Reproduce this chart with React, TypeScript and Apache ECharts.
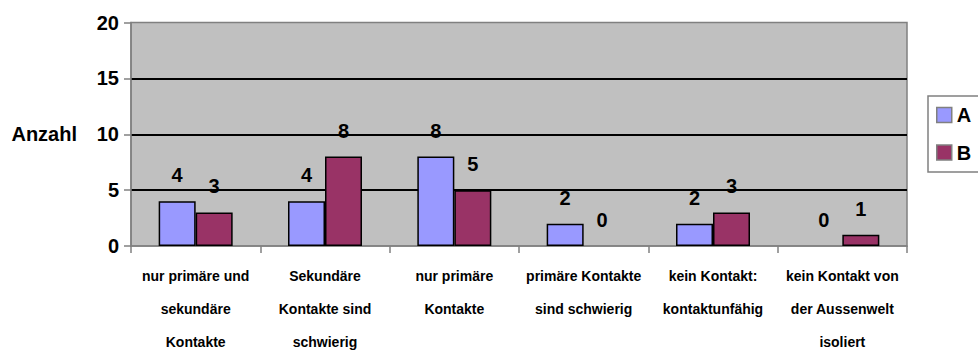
import React, { useEffect, useRef } from "react";
import * as echarts from "echarts";

// Kontaktformen (mit Zeilenumbrüchen) und Anzahl je Gruppe
const categories = [
  "nur primäre und\nsekundäre\nKontakte",
  "Sekundäre\nKontakte sind\nschwierig",
  "nur primäre\nKontakte",
  "primäre Kontakte\nsind schwierig",
  "kein Kontakt:\nkontaktunfähig",
  "kein Kontakt von\nder Aussenwelt\nisoliert",
];
const seriesNames = ["A", "B"];
const valuesA = [4, 4, 8, 2, 2, 0];
const valuesB = [3, 8, 5, 0, 3, 1];
const yTicks = { min: 0, max: 20, interval: 5 };
const yAxisTitle = "Anzahl";

const FONT = "'Liberation Sans', Arial, Helvetica, sans-serif";
const COLORS = ["#9999FF", "#993366"];

export default function App() {
  const ref = useRef<HTMLDivElement>(null);

  useEffect(() => {
    if (!ref.current) return;
    const chart = echarts.init(ref.current, undefined, { renderer: "svg" });

    // zero-height bars get no outline, only their value label
    const toData = (values: number[]) =>
      values.map((v) => (v === 0 ? { value: v, itemStyle: { borderWidth: 0 } } : v));

    const barSeries = (name: string, values: number[], color: string) => ({
      name,
      type: "bar",
      data: toData(values),
      barWidth: 37,
      barGap: "0%",
      itemStyle: { color, borderColor: "#000", borderWidth: 1.5 },
      label: {
        show: true,
        position: "top",
        distance: 16,
        color: "#000",
        fontFamily: FONT,
        fontWeight: "bold",
        fontSize: 20,
      },
    });

    chart.setOption({
      animation: false,
      textStyle: { fontFamily: FONT },
      color: COLORS,
      grid: {
        left: 131,
        top: 22.5,
        width: 776,
        height: 223.5,
        show: true,
        backgroundColor: "#C0C0C0",
        borderColor: "#808080",
        borderWidth: 1.5,
        containLabel: false,
        outerBoundsMode: "none",
      },
      legend: {
        orient: "vertical",
        left: 928,
        top: 96,
        padding: [9, 30, 9.5, 8],
        itemWidth: 15,
        itemHeight: 15,
        itemGap: 17.5,
        icon: "rect",
        borderColor: "#808080",
        borderWidth: 1.5,
        backgroundColor: "#fff",
        itemStyle: { borderColor: "#808080", borderWidth: 1.5 },
        textStyle: {
          color: "#000",
          fontFamily: FONT,
          fontWeight: "bold",
          fontSize: 20,
          lineHeight: 20,
        },
        data: seriesNames,
      },
      xAxis: {
        type: "category",
        data: categories,
        axisLine: { lineStyle: { color: "#808080", width: 1.5 } },
        axisTick: { show: true, length: 7, lineStyle: { color: "#808080", width: 1.5 } },
        axisLabel: {
          interval: 0,
          margin: 13,
          verticalAlign: "top",
          lineHeight: 33,
          color: "#000",
          fontFamily: FONT,
          fontWeight: "bold",
          fontSize: 14,
        },
      },
      yAxis: {
        type: "value",
        min: yTicks.min,
        max: yTicks.max,
        interval: yTicks.interval,
        name: yAxisTitle,
        nameLocation: "middle",
        nameRotate: 0,
        nameGap: 54,
        nameTextStyle: {
          color: "#000",
          fontFamily: FONT,
          fontWeight: "bold",
          fontSize: 20,
          align: "right",
          verticalAlign: "middle",
        },
        axisLine: { show: true, lineStyle: { color: "#808080", width: 1.5 } },
        axisTick: { show: true, length: 7, lineStyle: { color: "#808080", width: 1.5 } },
        axisLabel: {
          margin: 12,
          color: "#000",
          fontFamily: FONT,
          fontWeight: "bold",
          fontSize: 20,
        },
        splitLine: {
          show: true,
          showMinLine: false,
          showMaxLine: false,
          lineStyle: { color: "#000", width: 1.8 },
        },
      },
      series: [
        barSeries(seriesNames[0], valuesA, COLORS[0]),
        barSeries(seriesNames[1], valuesB, COLORS[1]),
      ],
    });

    return () => chart.dispose();
  }, []);

  return (
    <div
      style={{
        position: "fixed",
        left: 0,
        top: 0,
        width: 978,
        height: 352,
        overflow: "hidden",
        background: "#fff",
      }}
    >
      <div ref={ref} style={{ width: 1000, height: 352 }} />
    </div>
  );
}
